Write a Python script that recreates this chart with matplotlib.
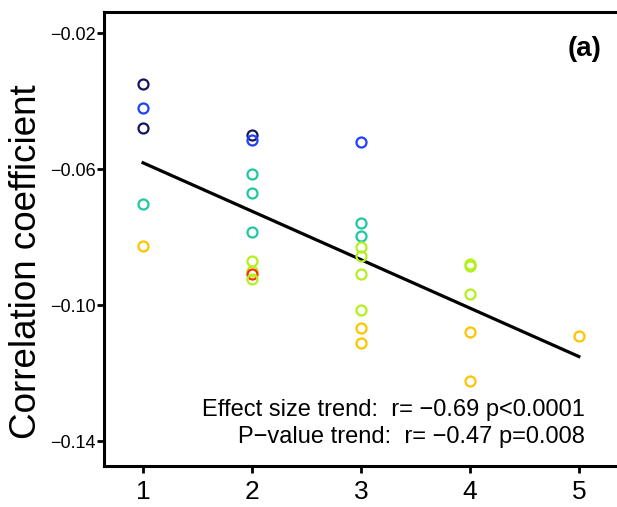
import matplotlib
matplotlib.use("Agg")
import matplotlib.pyplot as plt

plt.rcParams['font.family'] = ['Liberation Sans', 'DejaVu Sans']

# Data
x_vals = [1, 1, 1, 1, 1,
          2, 2, 2, 2, 2, 2, 2, 2, 2,
          3, 3, 3, 3, 3, 3, 3, 3, 3,
          4, 4, 4, 4, 4,
          5]
y_vals = [-0.0349, -0.0419, -0.0478, -0.0702, -0.0826,
          -0.0499, -0.0514, -0.0614, -0.0669, -0.0784, -0.0869, -0.0898, -0.0909, -0.0923,
          -0.0519, -0.0759, -0.0796, -0.0828, -0.0855, -0.0908, -0.1014, -0.1066, -0.1112,
          -0.0879, -0.0886, -0.0966, -0.1079, -0.1223,
          -0.1090]
groups = ['navy', 'blue', 'navy', 'teal', 'orange',
          'navy', 'blue', 'teal', 'teal', 'teal', 'yg', 'yg', 'red', 'yg',
          'blue', 'teal', 'teal', 'yg', 'yg', 'yg', 'yg', 'orange', 'orange',
          'yg', 'yg', 'yg', 'orange', 'orange',
          'orange']
palette = {'navy': '#16165c', 'blue': '#2040ff', 'teal': '#1ec8a0',
           'yg': '#b4f01e', 'orange': '#ffc400', 'red': '#ff3000'}

trend_x = [1, 5]
trend_y = [-0.0581, -0.1151]

x_ticks = [1, 2, 3, 4, 5]
y_ticks = [-0.02, -0.06, -0.10, -0.14]
y_ticklabels = ['\u22120.02', '\u22120.06', '\u22120.10', '\u22120.14']

fig = plt.figure(figsize=(6.17, 5.07), dpi=100)
ax = fig.add_axes([0.1686, 0.0809, 0.8314, 0.8954])

ax.plot(trend_x, trend_y, color='black', lw=2.3, zorder=1)
for xv, yv, g in zip(x_vals, y_vals, groups):
    ax.plot(xv, yv, 'o', ms=7.2, mfc='none', mec=palette[g], mew=1.6, zorder=2)

ax.set_xlim(0.642, 5.35)
ax.set_ylim(-0.1473, -0.01374)
ax.set_xticks(x_ticks)
ax.set_xticklabels([str(t) for t in x_ticks], fontsize=19)
ax.set_yticks(y_ticks)
ax.set_yticklabels(y_ticklabels, fontsize=13)
ax.tick_params(axis='both', direction='out', length=5, width=2, color='black')
ax.tick_params(axis='x', pad=5)
ax.tick_params(axis='y', pad=1)
for side in ['left', 'bottom', 'top']:
    ax.spines[side].set_linewidth(2.2)
ax.spines['right'].set_visible(False)

ax.set_ylabel('Correlation coefficient', fontsize=26.5, labelpad=2)
ax.yaxis.set_label_coords(-0.117, 0.45)

ax.text(585, 410, 'Effect size trend:  r= \u22120.69 p<0.0001', transform=None,
        ha='right', va='center', fontsize=17)
ax.text(585, 437, 'P\u2212value trend:  r= \u22120.47 p=0.008', transform=None,
        ha='right', va='center', fontsize=17)
ax.text(585, 49, '(a)', transform=None, ha='center', va='center',
        fontsize=20, fontweight='bold')

# transform=None texts use display coords with origin bottom-left; convert
for t in ax.texts:
    xx, yy = t.get_position()
    t.set_position((xx, 507 - yy))

fig.savefig('out.png', dpi=100)
